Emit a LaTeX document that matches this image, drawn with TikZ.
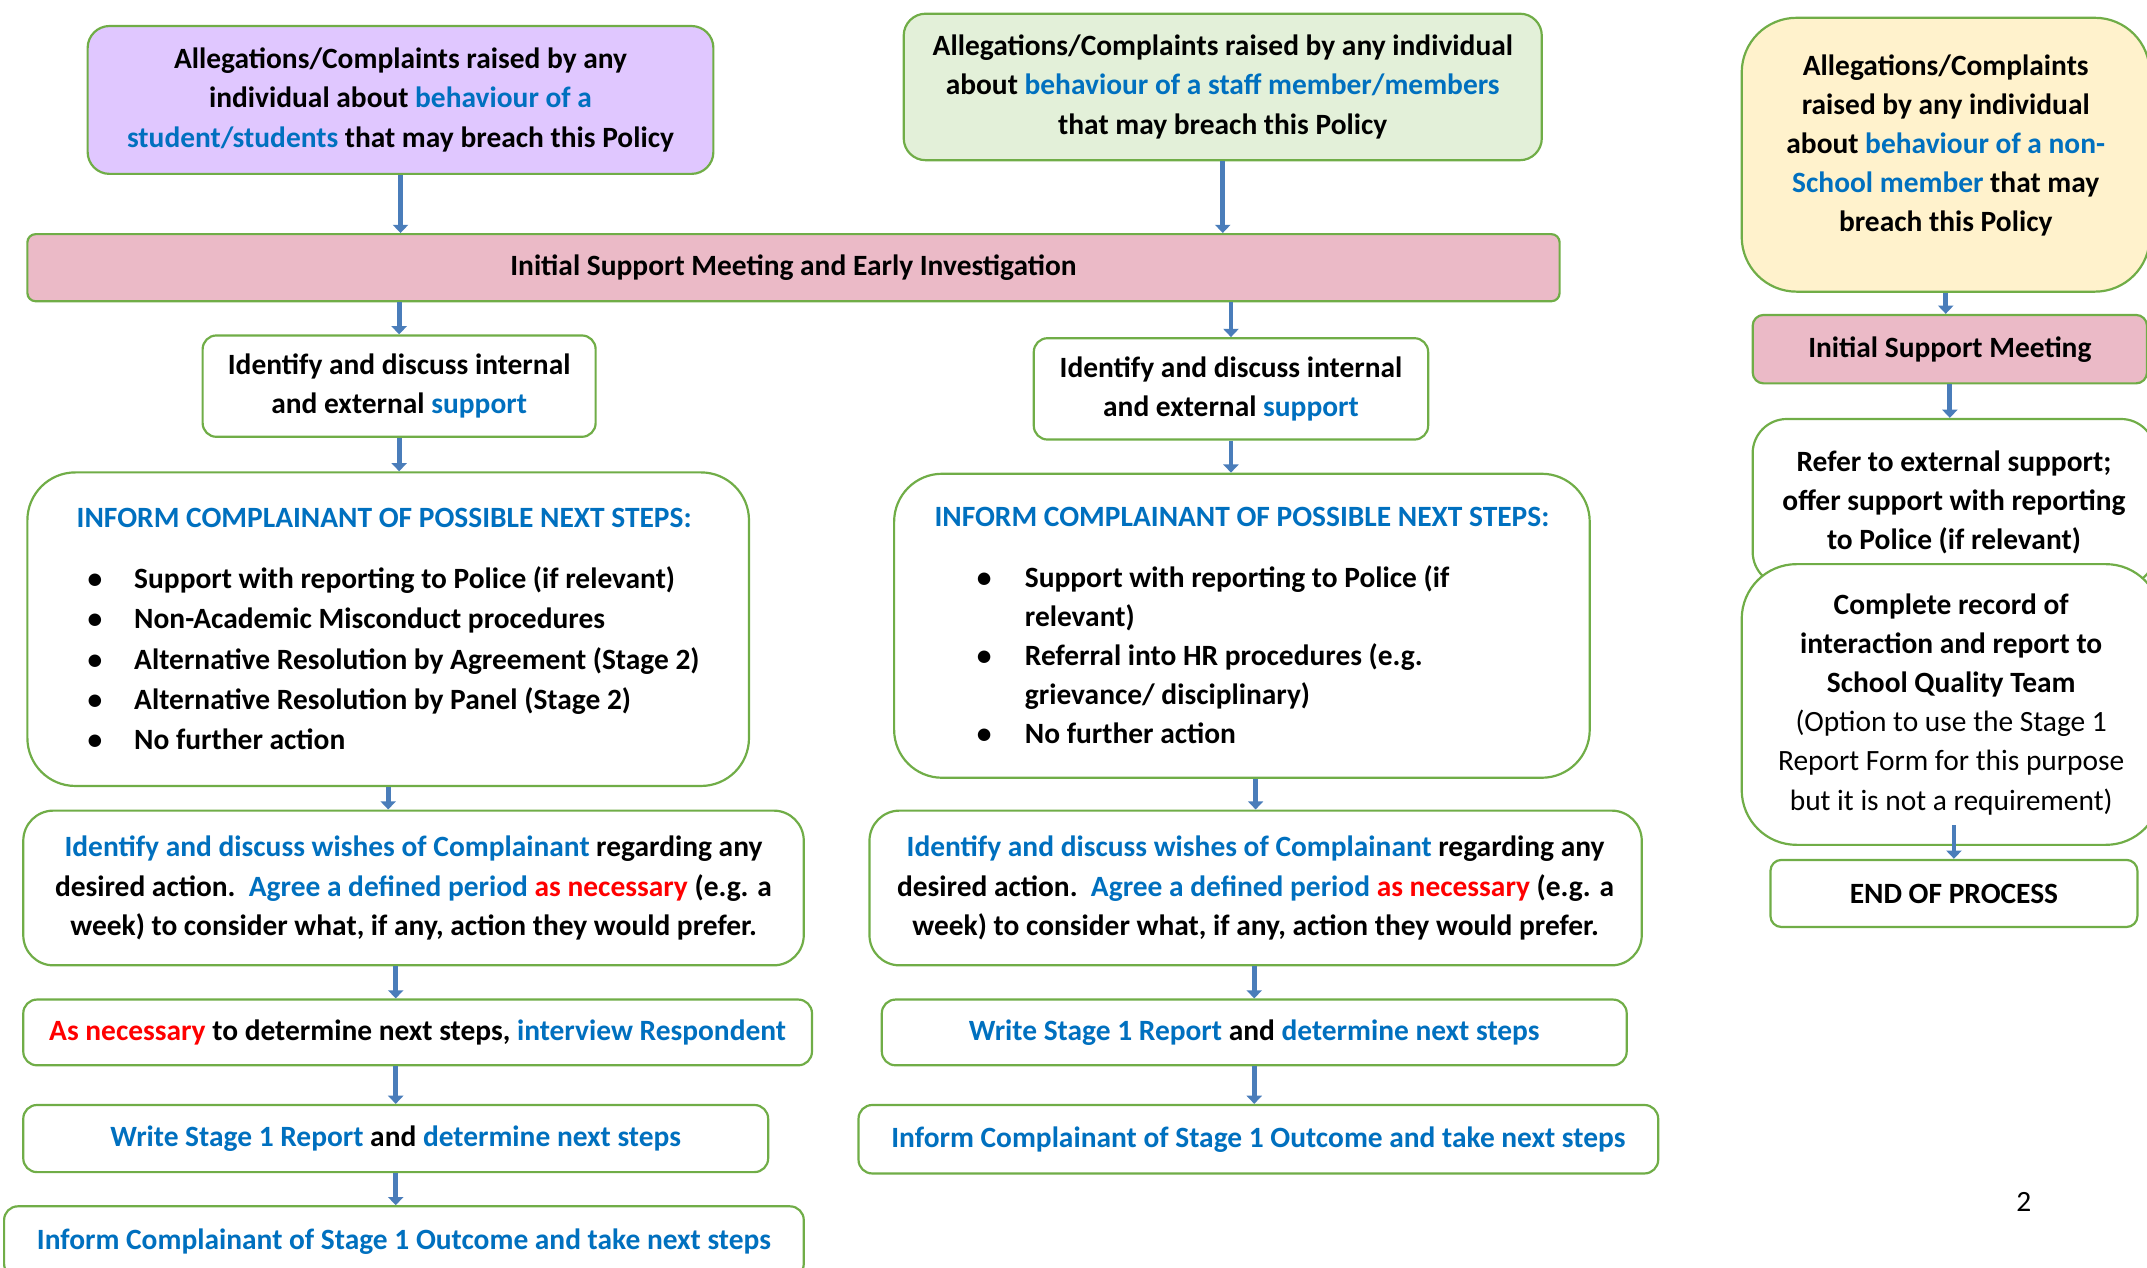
\documentclass[tikz,border=0pt]{standalone}
\usepackage{fontspec}
\setmainfont{Carlito}
\usetikzlibrary{positioning,arrows.meta}
\definecolor{boxgreen}{rgb}{0.44, 0.68, 0.28}
\definecolor{textblue}{rgb}{0.0, 0.44, 0.75}
\definecolor{textred}{rgb}{1.0, 0.0, 0.0}
\definecolor{lilac}{rgb}{0.88, 0.78, 1.0}
\definecolor{palegreen}{rgb}{0.89, 0.94, 0.85}
\definecolor{paleyellow}{rgb}{1.0, 0.95, 0.8}
\definecolor{softpink}{rgb}{0.92, 0.73, 0.78}
\definecolor{arrowblue}{rgb}{0.29, 0.49, 0.73}

\begin{document}
\begin{tikzpicture}[x=1pt,y=-1pt]
    % Stili dei riquadri
    \tikzset{
        flow_box/.style={
            draw=boxgreen, % Bordo verde
            line width=1.6pt,
            fill=white,
            rounded corners=10pt,
            align=center,
            inner sep=0pt,
            font=\fontsize{21.5}{28.5}\selectfont\bfseries
        },
        start_box/.style={
            flow_box,
            rounded corners=16pt
        },
        meeting_box/.style={
            flow_box,
            fill=softpink,
            rounded corners=6pt
        },
        list_box/.style={
            flow_box,
            align=left,
            rounded corners=35pt
        },
        step_arrow/.style={
            draw=arrowblue,
            line width=3.5pt,
            -{Triangle[width=11pt,length=6pt]}
        }
    }
    \useasboundingbox (0,0) rectangle (1568,926);

    % Colonna sinistra: studenti
    \node[start_box, fill=lilac, minimum width=457, minimum height=108] (start_student) at (292.5,73)
        {Allegations/Complaints raised by any\\ individual about {\color{textblue}behaviour of a}\\ {\color{textblue}student/students} that may breach this Policy};

    % Riunione iniziale (comune)
    \node[meeting_box, minimum width=1119, minimum height=49] (meeting_main) at (579.5,195.5)
        {Initial Support Meeting and Early Investigation};

    \node[flow_box, minimum width=287, minimum height=74] (support_left) at (291.5,282)
        {Identify and discuss internal\\ and external {\color{textblue}support}};

    \node[list_box, minimum width=527, minimum height=229] (steps_left) at (283.5,459.5)
        {{\color{textblue}INFORM COMPLAINANT OF POSSIBLE NEXT STEPS:}\\[16pt]
        \hspace*{8pt}\makebox[34pt][l]{\textbullet}Support with reporting to Police (if relevant)\\[1pt]
        \hspace*{8pt}\makebox[34pt][l]{\textbullet}Non-Academic Misconduct procedures\\[1pt]
        \hspace*{8pt}\makebox[34pt][l]{\textbullet}Alternative Resolution by Agreement (Stage 2)\\[1pt]
        \hspace*{8pt}\makebox[34pt][l]{\textbullet}Alternative Resolution by Panel (Stage 2)\\[1pt]
        \hspace*{8pt}\makebox[34pt][l]{\textbullet}No further action};

    \node[flow_box, rounded corners=22pt, minimum width=570, minimum height=113] (wishes_left) at (302,648.5)
        {{\color{textblue}Identify and discuss wishes of Complainant} regarding any\\ desired action.\ \ {\color{textblue}Agree a defined period} {\color{textred}as necessary} (e.g. a\\ week) to consider what, if any, action they would prefer.};

    \node[flow_box, minimum width=576, minimum height=48] (interview_left) at (305,754)
        {{\color{textred}As necessary} to determine next steps, {\color{textblue}interview Respondent}};

    \node[flow_box, minimum width=544, minimum height=49] (report_left) at (289,831.5)
        {{\color{textblue}Write Stage 1 Report} and {\color{textblue}determine next steps}};

    \node[flow_box, minimum width=584, minimum height=52] (outcome_left) at (295,907)
        {{\color{textblue}Inform Complainant of Stage 1 Outcome and take next steps}};

    % Colonna centrale: personale
    \node[start_box, fill=palegreen, minimum width=466, minimum height=107] (start_staff) at (893,63.5)
        {Allegations/Complaints raised by any individual\\ about {\color{textblue}behaviour of a staff member/members}\\ that may breach this Policy};

    \node[flow_box, minimum width=288, minimum height=74] (support_mid) at (899,284)
        {Identify and discuss internal\\ and external {\color{textblue}support}};

    \node[list_box, minimum width=508, minimum height=222] (steps_mid) at (907,457)
        {{\color{textblue}INFORM COMPLAINANT OF POSSIBLE NEXT STEPS:}\\[16pt]
        \hspace*{31pt}\makebox[35pt][l]{\textbullet}Support with reporting to Police (if\\
        \hspace*{66pt}relevant)\\
        \hspace*{31pt}\makebox[35pt][l]{\textbullet}Referral into HR procedures (e.g.\\
        \hspace*{66pt}grievance/ disciplinary)\\
        \hspace*{31pt}\makebox[35pt][l]{\textbullet}No further action};

    \node[flow_box, rounded corners=22pt, minimum width=564, minimum height=113] (wishes_mid) at (917,648.5)
        {{\color{textblue}Identify and discuss wishes of Complainant} regarding any\\ desired action.\ \ {\color{textblue}Agree a defined period} {\color{textred}as necessary} (e.g. a\\ week) to consider what, if any, action they would prefer.};

    \node[flow_box, minimum width=544, minimum height=48] (report_mid) at (916,754)
        {{\color{textblue}Write Stage 1 Report} and {\color{textblue}determine next steps}};

    \node[flow_box, minimum width=584, minimum height=50] (outcome_mid) at (919,832)
        {{\color{textblue}Inform Complainant of Stage 1 Outcome and take next steps}};

    % Colonna destra: esterni
    \node[start_box, fill=paleyellow, rounded corners=40pt, minimum width=298, minimum height=200] (start_extern) at (1421,113)
        {Allegations/Complaints\\ raised by any individual\\ about {\color{textblue}behaviour of a non-}\\ {\color{textblue}School member} that may\\ breach this Policy\\[-11pt]\mbox{}};

    \node[meeting_box, rounded corners=8pt, minimum width=288, minimum height=50] (meeting_extern) at (1424,255)
        {Initial Support Meeting};

    \node[flow_box, rounded corners=25pt, minimum width=294, minimum height=122] (refer_extern) at (1427,367)
        {Refer to external support;\\ offer support with reporting\\ to Police (if relevant)};

    \node[flow_box, rounded corners=40pt, minimum width=306, minimum height=205] (record_extern) at (1425,514.5)
        {Complete record of\\ interaction and report to\\ School Quality Team\\ \mdseries(Option to use the Stage 1\\ \mdseries Report Form for this purpose\\ \mdseries but it is not a requirement)};

    \node[flow_box, rounded corners=8pt, minimum width=268, minimum height=49] (end_extern) at (1427,652.5)
        {END OF PROCESS};

    % Numero di pagina
    \node[font=\fontsize{21.5}{25}\selectfont] (page_num) at (1478,878) {2};

    % Frecce
    \draw[step_arrow] (start_student.south) -- (start_student.south |- meeting_main.north);
    \draw[step_arrow] (start_staff.south) -- (start_staff.south |- meeting_main.north);
    \draw[step_arrow] (support_left.north |- meeting_main.south) -- (support_left.north);
    \draw[step_arrow] (support_mid.north |- meeting_main.south) -- (support_mid.north);
    \draw[step_arrow] (support_left.south) -- (support_left.south |- steps_left.north);
    \draw[step_arrow] (support_mid.south) -- (support_mid.south |- steps_mid.north);
    \draw[step_arrow] (steps_left.south) -- (steps_left.south |- wishes_left.north);
    \draw[step_arrow] (wishes_mid.north |- steps_mid.south) -- (wishes_mid.north);
    \draw[step_arrow] (report_left.north |- wishes_left.south) -- (report_left.north |- interview_left.north);
    \draw[step_arrow] (report_left.north |- interview_left.south) -- (report_left.north);
    \draw[step_arrow] (report_left.south) -- (report_left.south |- outcome_left.north);
    \draw[step_arrow] (report_mid.north |- wishes_mid.south) -- (report_mid.north);
    \draw[step_arrow] (report_mid.south) -- (report_mid.south |- outcome_mid.north);
    \draw[step_arrow] (start_extern.south) -- (start_extern.south |- meeting_extern.north);
    \draw[step_arrow] (meeting_extern.south) -- (meeting_extern.south |- refer_extern.north);
    \draw[step_arrow] ([yshift=15pt]end_extern.north |- record_extern.south) -- (end_extern.north);

\end{tikzpicture}
\end{document}
